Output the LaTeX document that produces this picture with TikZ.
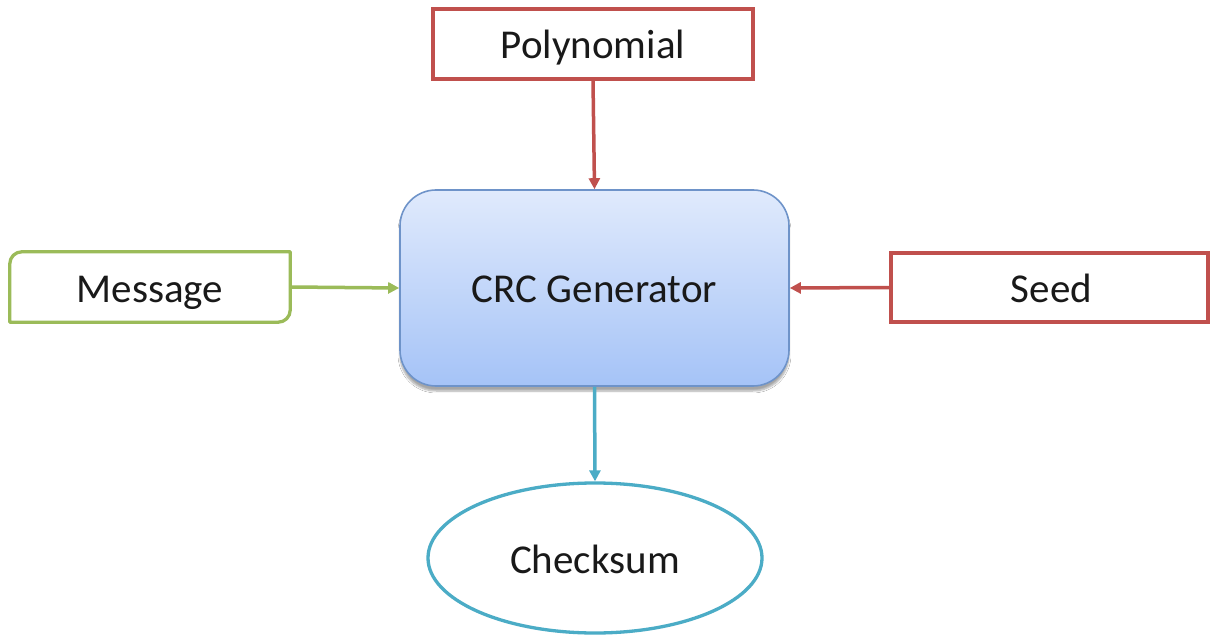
\documentclass[tikz,border=0pt]{standalone}
\usepackage{fontspec}
\setmainfont{Carlito}
\usetikzlibrary{arrows.meta,shapes.geometric,shadows.blur}
\definecolor{cred}{HTML}{C0504D}
\definecolor{cgreen}{HTML}{9BBB59}
\definecolor{cteal}{HTML}{4BACC6}
\definecolor{cblueb}{HTML}{6E93C9}
\definecolor{cbluetop}{HTML}{E0EAFC}
\definecolor{cbluebot}{HTML}{A5C3F7}
\tikzset{
  lbl/.style={font=\fontsize{41}{48}\selectfont, text=black!90, text height=30pt, text depth=0pt},
  inbox/.style={lbl, draw=cred, line width=3.3pt, inner sep=0pt, fill=white},
  conn/.style={line width=3.5pt, -{Triangle[length=11pt,width=11pt]}},
}
\begin{document}
\begin{tikzpicture}[x=1pt,y=-1pt]
\useasboundingbox[fill=white] (0,0) rectangle (1210,636);
% nodes
\node[inbox, minimum width=320pt, minimum height=70pt] (poly) at (593,44) {Polynomial};
\node[lbl, draw=cblueb, line width=1.6pt, rounded corners=36pt, inner sep=0pt,
      minimum width=389pt, minimum height=196pt,
      top color=cbluetop, bottom color=cbluebot,
      blur shadow={shadow xshift=0pt, shadow yshift=-5pt, shadow blur steps=6, shadow opacity=35}]
      (crc) at (594.5,288) {CRC Generator};
\node[inbox, minimum width=317pt, minimum height=69pt] (seed) at (1049.5,287.5) {\hspace*{4pt}Seed};
\node[lbl, inner sep=0pt, minimum width=280pt, minimum height=70pt] (msg) at (150,287) {Message};
\draw[cgreen, line width=3.3pt, line join=round]
  ([xshift=12pt]msg.north west) -- (msg.north east) -- ([yshift=12pt]msg.south east)
  arc[start angle=0, end angle=-90, radius=12pt] -- (msg.south west)
  -- ([yshift=-12pt]msg.north west) arc[start angle=180, end angle=90, radius=12pt] -- cycle;
\node[lbl, ellipse, draw=cteal, line width=3.3pt, inner sep=0pt,
      minimum width=334pt, minimum height=150pt] (chk) at (595,558) {Checksum};
% connectors
\draw[conn, cred] (poly.south) -- (crc.north);
\draw[conn, cgreen] (msg.east) -- (crc.west);
\draw[conn, cred] (seed.west) -- (crc.east);
\draw[conn, cteal] (crc.south) -- (chk.north);
\end{tikzpicture}
\end{document}
